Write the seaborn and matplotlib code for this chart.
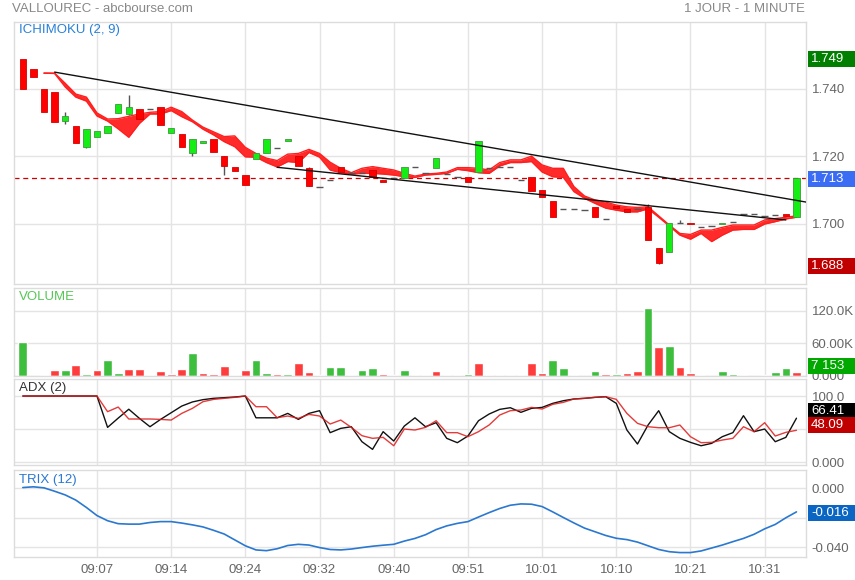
import matplotlib
matplotlib.use("Agg")
import matplotlib.pyplot as plt
import matplotlib.transforms as mtransforms
from matplotlib.patches import Rectangle
import seaborn as sns

# --- data (one bar per traded minute) ---
times = ["09:07", "09:14", "09:24", "09:32", "09:40", "09:51", "10:01", "10:10", "10:21", "10:31"]
time_bars = [7, 14, 21, 28, 35, 42, 49, 56, 63, 70]

opens = [1.749, 1.746, 1.740, 1.739, 1.7305, 1.729, 1.7229, 1.7259, 1.7269, 1.733,
         1.7326, 1.734, 1.734, 1.7346, 1.7269, 1.7266, 1.7209, 1.724, 1.7252, 1.7201,
         1.7169, 1.7145, 1.7193, 1.7209, 1.7224, 1.7246, 1.7201, 1.7165, 1.7109, 1.713,
         1.7168, 1.715, 1.7152, 1.716, 1.713, 1.7137, 1.7135, 1.7168, 1.7152, 1.7165,
         1.7147, 1.7138, 1.7138, 1.7153, 1.7165, 1.7168, 1.7168, 1.713, 1.7138, 1.7101,
         1.7068, 1.7043, 1.7043, 1.704, 1.7049, 1.7014, 1.7053, 1.7044, 1.7044, 1.7051,
         1.6928, 1.6918, 1.7002, 1.7004, 1.699, 1.6994, 1.6999, 1.7007, 1.703, 1.703,
         1.7024, 1.7027, 1.703, 1.7022]
closes = [1.740, 1.7435, 1.7333, 1.7303, 1.732, 1.7239, 1.7281, 1.7275, 1.7289, 1.7355,
          1.7346, 1.731, 1.734, 1.7293, 1.7284, 1.7229, 1.7251, 1.7246, 1.7214, 1.7172,
          1.7158, 1.7116, 1.7209, 1.7251, 1.7224, 1.7251, 1.7173, 1.7113, 1.7109, 1.713,
          1.7154, 1.715, 1.7152, 1.714, 1.7124, 1.7137, 1.7168, 1.7168, 1.7152, 1.7195,
          1.7147, 1.7138, 1.7124, 1.7246, 1.7165, 1.7168, 1.7168, 1.713, 1.7099, 1.7079,
          1.7022, 1.7043, 1.7043, 1.704, 1.702, 1.7014, 1.7048, 1.7036, 1.7044, 1.6953,
          1.6885, 1.7002, 1.7002, 1.6999, 1.699, 1.6994, 1.7002, 1.7007, 1.703, 1.703,
          1.7024, 1.7027, 1.7024, 1.7135]
# bars with a visible wick: bar -> (high, low)
wicks = {4: (1.7331, 1.7296), 6: (1.7281, 1.7226), 9: (1.7355, 1.7328),
         10: (1.7382, 1.7323), 16: (1.7251, 1.7202), 19: (1.7201, 1.7145),
         27: (1.717, 1.7113), 59: (1.7059, 1.6953), 60: (1.6928, 1.6881),
         62: (1.7012, 1.7002)}

# ichimoku band, bars 2..73
cloud_start = 2
cloud_up = [1.7447, 1.7447, 1.7417, 1.7385, 1.7376, 1.7329, 1.7311, 1.7312, 1.7319, 1.7326,
            1.7331, 1.7333, 1.7346, 1.7333, 1.7308, 1.7287, 1.7273, 1.7259, 1.7261, 1.7227,
            1.7209, 1.7195, 1.7188, 1.7207, 1.7209, 1.7221, 1.7209, 1.7183, 1.7165, 1.7152,
            1.7165, 1.717, 1.7165, 1.716, 1.715, 1.7142, 1.7148, 1.715, 1.7154, 1.7167,
            1.7167, 1.7165, 1.716, 1.7182, 1.719, 1.719, 1.7201, 1.7175, 1.7165, 1.7165,
            1.7111, 1.7083, 1.7071, 1.7065, 1.7056, 1.7051, 1.7049, 1.7051, 1.7024, 1.6997,
            1.6972, 1.6969, 1.6982, 1.6982, 1.699, 1.6997, 1.6997, 1.6997, 1.7012, 1.7016,
            1.702, 1.7024]
cloud_lo = [1.7447, 1.7446, 1.7406, 1.7376, 1.7364, 1.732, 1.7305, 1.7282, 1.7257, 1.7298,
            1.7326, 1.7326, 1.7336, 1.7318, 1.7303, 1.7281, 1.7264, 1.7244, 1.7229, 1.7199,
            1.7198, 1.7182, 1.7169, 1.7185, 1.7182, 1.7212, 1.7198, 1.716, 1.7152, 1.7148,
            1.715, 1.715, 1.7148, 1.7145, 1.714, 1.7138, 1.7145, 1.7147, 1.715, 1.7162,
            1.7158, 1.7152, 1.715, 1.7172, 1.7182, 1.7182, 1.7185, 1.7154, 1.714, 1.7138,
            1.7096, 1.7076, 1.7061, 1.7047, 1.7041, 1.7036, 1.7036, 1.7045, 1.702, 1.6994,
            1.6967, 1.6955, 1.6972, 1.6948, 1.6967, 1.6982, 1.6984, 1.6984, 1.7, 1.7007,
            1.7015, 1.702]

# trend lines (bar, price)
trend_upper = ([3, 73.9], [1.745, 1.7065])
trend_lower = ([24, 72], [1.7168, 1.7012])
last_price = 1.7135

volume_k = [62, 0, 2, 10.4, 10.4, 19.6, 4.3, 10.4, 30, 4.9,
            12.3, 12.3, 1.8, 8.6, 3, 12.3, 41.7, 4.9, 3.7, 17.8,
            1.8, 10.4, 28.8, 4.9, 3, 3, 23.3, 7.4, 1.8, 16.5,
            17.2, 1.8, 10.4, 14.7, 3.7, 1.8, 10.4, 1.8, 1.8, 9.8,
            1.8, 1.8, 3, 24.5, 1.2, 1.2, 1.2, 1.2, 23.3, 4.9,
            30, 14.1, 1.2, 0, 9.8, 3, 3, 6.1, 9.8, 125.5,
            52.7, 54.5, 16.5, 4.9, 1.2, 0, 9.8, 3, 1.2, 0,
            1.2, 8, 15.3, 7.153]
volume_up = "grrrgrgrggrrgrrrgrrrrrggrgrrrgggggrggrgrrrgrggrrrrggrrgrgrrgrgrrgrgggrgg"

adx_black = [100, 100, 100, 100, 100, 100, 100, 100, 52.5, 66.5,
             80, 66.2, 53.5, 64.6, 74.7, 84.8, 91, 94.5, 96.5, 97.5,
             98.5, 100, 67, 67, 67, 73.7, 64.6, 73.7, 77.8, 44.5,
             51, 53.5, 30.8, 19.2, 46, 31.8, 54.5, 67, 53.5, 59.6,
             35.9, 29.3, 39.4, 62.6, 72.7, 79.8, 82.3, 75.3, 81.3, 82.8,
             88.9, 92.9, 95.5, 96.5, 98, 99, 88.9, 48.5, 27.3, 56.1,
             77.8, 46, 35.9, 29.8, 24.7, 28.3, 38.4, 44.5, 70.2, 46,
             50, 30.8, 37.4, 66.41]
adx_red = [100, 100, 100, 100, 100, 100, 100, 100, 76.3, 83.3,
           65.2, 65.2, 65.2, 64.6, 63.6, 73.7, 81.3, 91.4, 94.9, 96.5,
           98, 100, 83.8, 83.8, 67.2, 69.7, 66.2, 72.2, 69.7, 57.6,
           63.6, 52.5, 39.9, 35.9, 37.4, 24.7, 50, 48.5, 52.5, 62.6,
           44.5, 44.5, 38.4, 46, 56.1, 71.2, 77.8, 78.8, 82.8, 80.3,
           87.4, 90.4, 95.5, 96.5, 98, 99, 95, 73.7, 58.6, 53.5,
           52, 52, 56.1, 38.4, 29.3, 29.8, 33.3, 35.9, 53.5, 46,
           59.6, 39.4, 45, 48.09]

trix = [0.0005, 0.001, 0.0003, -0.002, -0.0045, -0.008, -0.013, -0.0185, -0.022, -0.024,
        -0.0243, -0.0243, -0.0232, -0.0226, -0.0226, -0.0236, -0.0248, -0.0262, -0.0285, -0.031,
        -0.035, -0.039, -0.0418, -0.0423, -0.041, -0.0388, -0.038, -0.0385, -0.0402, -0.0415,
        -0.0418, -0.0412, -0.0402, -0.0393, -0.0386, -0.038, -0.0358, -0.034, -0.0315, -0.028,
        -0.0255, -0.0238, -0.0226, -0.0195, -0.0165, -0.0137, -0.0115, -0.0106, -0.0108, -0.0124,
        -0.016, -0.0198, -0.0235, -0.027, -0.0295, -0.032, -0.0339, -0.0348, -0.0365, -0.039,
        -0.0415, -0.043, -0.0436, -0.0436, -0.0425, -0.0405, -0.0385, -0.0362, -0.034, -0.0312,
        -0.0275, -0.0245, -0.02, -0.016]

# --- figure ---
sns.set_style("white")
plt.rcParams["font.family"] = ["Liberation Sans", "DejaVu Sans"]

W, H = 855, 580
fig = plt.figure(figsize=(W / 100, H / 100), dpi=100)
bars = list(range(len(opens)))


def panel(top, bottom):
    return fig.add_axes([14 / W, 1 - bottom / H, (806 - 14) / W, (bottom - top) / H])


ax_main = panel(22, 284)
ax_vol = panel(288, 376)
ax_adx = panel(379, 465)
ax_trix = panel(470, 557)

for ax in (ax_main, ax_vol, ax_adx, ax_trix):
    ax.set_xlim(-0.83, 73.9)
    for s in ax.spines.values():
        s.set_color("#dcdcdc")
        s.set_linewidth(1)
    ax.yaxis.tick_right()
    ax.tick_params(axis="y", length=0, pad=4, labelcolor="#666666", labelsize=9.5)
    ax.tick_params(axis="x", length=0)
    ax.set_xticks(time_bars)
    ax.grid(True, color="#e4e4e4", lw=1)
    ax.set_axisbelow(True)

# main: candles + ichimoku
ax_main.set_ylim(1.68222, 1.75985)
ax_main.set_yticks([1.70, 1.72, 1.74], ["1.700", "1.720", "1.740"])
cx = list(range(cloud_start, cloud_start + len(cloud_up)))
ax_main.fill_between(cx, cloud_lo, cloud_up, color="#ff2b2b", lw=0, zorder=2)
sns.lineplot(x=cx, y=cloud_up, ax=ax_main, color="#ff1f1f", lw=1, zorder=2)
sns.lineplot(x=cx, y=cloud_lo, ax=ax_main, color="#ff1f1f", lw=1, zorder=2)
ax_main.plot(*trend_upper, color="#111111", lw=1, zorder=4)
ax_main.plot(*trend_lower, color="#111111", lw=1, zorder=4)
ax_main.axhline(last_price, color="#cc0000", lw=0.9, ls=(0, (4, 3)), zorder=1)

for i, (o, c) in enumerate(zip(opens, closes)):
    if i in wicks:
        hi, lo = wicks[i]
        ax_main.vlines(i, lo, hi, color="#555555", lw=1, zorder=3)
    if o == c:
        ax_main.hlines(o, i - 0.3, i + 0.3, color="#555555", lw=1, zorder=3)
        continue
    up = c > o
    ax_main.bar(i, max(abs(c - o), 0.0003), bottom=min(o, c), width=0.6,
                color="#14ee14" if up else "#ff0000",
                edgecolor="#3a9a3a" if up else "#d40000", lw=0.6, zorder=3)

# volume
ax_vol.set_ylim(0, 162)
ax_vol.set_yticks([0, 60, 120], ["0.000", "60.00K", "120.0K"])
vcol = ["#3dbe3d" if u == "g" else "#ff3c3c" for u in volume_up]
ax_vol.bar(bars, volume_k, width=0.82, color=vcol, zorder=2)

# ADX (the 50 line label sits under the value boxes in the original)
ax_adx.set_ylim(-4.5, 125.8)
ax_adx.set_yticks([0, 50, 100], ["0.000", "", "100.0"])
sns.lineplot(x=bars, y=adx_black, ax=ax_adx, color="#111111", lw=1)
sns.lineplot(x=bars, y=adx_red, ax=ax_adx, color="#dd1a1a", lw=1, alpha=0.85)

# TRIX
ax_trix.set_ylim(-0.0466, 0.0124)
ax_trix.set_yticks([0, -0.02, -0.04], ["0.000", "", "-0.040"])
sns.lineplot(x=bars, y=trix, ax=ax_trix, color="#2a78d0", lw=1.2)

for ax in (ax_main, ax_vol, ax_adx):
    ax.set_xticklabels([])
    ax.set_xlabel("")
    ax.set_ylabel("")
ax_trix.set_xticklabels(times)
ax_trix.tick_params(axis="x", labelcolor="#666666", labelsize=9.5, pad=5)
ax_trix.set_xlabel("")
ax_trix.set_ylabel("")


def tag(ax, value, text, bg, dy=0):
    y0, y1 = ax.get_ylim()
    upp = (y1 - y0) / (ax.get_position().height * H)
    yc = value + dy * upp
    tr = mtransforms.blended_transform_factory(fig.transFigure, ax.transData)
    fig.add_artist(Rectangle((807.5 / W, yc - 8 * upp), 48 / W, 16 * upp, transform=tr,
                             facecolor=bg, edgecolor="none", clip_on=False, zorder=5))
    fig.text(811 / W, yc, text, transform=tr, color="white", fontsize=9.5,
             va="center", ha="left", zorder=6)


tag(ax_main, max(opens), "1.749", "#007f00")
tag(ax_main, last_price, "1.713", "#3a6cf4", dy=-1)
tag(ax_main, 1.688, "1.688", "#c00000", dy=-2)
tag(ax_vol, volume_k[-1], "7 153", "#00a800", dy=6)
tag(ax_adx, adx_black[-1], "66.41", "#000000", dy=7)
tag(ax_adx, adx_red[-1], "48.09", "#c00000", dy=5)
tag(ax_trix, trix[-1], "-0.016", "#0a66c2", dy=-1.5)


def label(x, y, s, color, **kw):
    fig.text(x / W, 1 - y / H, s, color=color, fontsize=9.5, va="center", **kw)


label(12, 9, "VALLOUREC - abcbourse.com", "#888888")
label(805, 9, "1 JOUR - 1 MINUTE", "#888888", ha="right")
label(19, 30, "ICHIMOKU (2, 9)", "#2680d9")
label(19, 297, "VOLUME", "#55c755")
label(19, 388, "ADX (2)", "#333333")
label(19, 480, "TRIX (12)", "#2a78d0")

fig.savefig("out.png", dpi=100)
